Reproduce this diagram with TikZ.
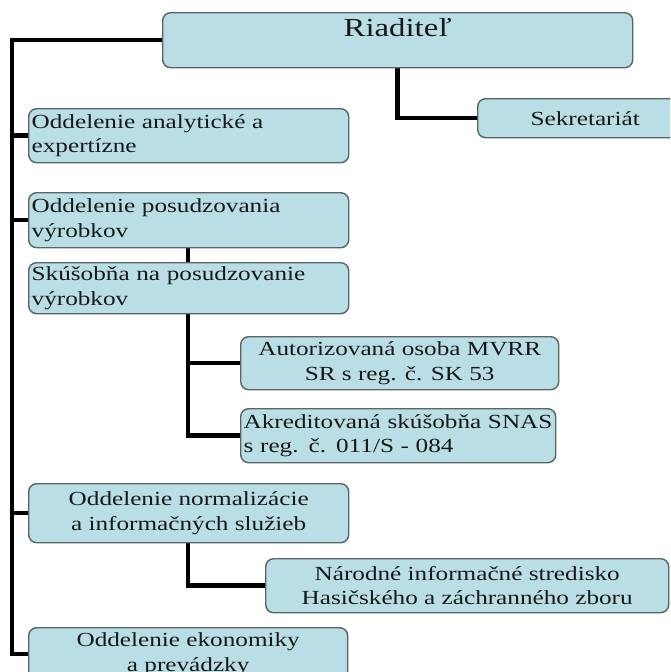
\documentclass[tikz,border=0pt]{standalone}
\usepackage{fontspec}
\setmainfont[FakeStretch=1.26]{Liberation Serif}
\usetikzlibrary{backgrounds}
\definecolor{boxfill}{RGB}{186,222,229}
\definecolor{boxline}{RGB}{88,100,102}
\definecolor{ink}{RGB}{25,25,25}
\begin{document}
\begin{tikzpicture}[x=1pt,y=-1pt,
  box/.style={draw=boxline, line width=1.4pt, fill=boxfill, rounded corners=8pt,
    anchor=north west, inner xsep=3pt, inner ysep=0pt, text=ink,
    font=\fontsize{20}{24.5}\selectfont},
  leftbox/.style={box, align=left, text width=#1},
  midbox/.style={box, align=center},
  conn/.style={draw=black, line width=4.5pt, line join=miter}]
\useasboundingbox (0,0) rectangle (670,672);
\clip (0,0) rectangle (670,672);

% guide lines of the tree
\coordinate (trunk) at (12,0);
\coordinate (sub) at (188,0);

% director and secretariat
\node[midbox, minimum width=470pt, text height=24pt, text depth=31pt,
  font=\fontsize{26}{30}\selectfont] (riad) at (162,12) {Riaditeľ};
\node[midbox, minimum width=215pt, minimum height=39pt, text width=200pt] (sekr) at (477,98) {Sekretariát};

% departments on the main trunk
\node[leftbox=314pt, minimum width=320pt, minimum height=54pt] (anal) at (28,108)
  {Oddelenie analytické a\\expertízne};
\node[leftbox=314pt, minimum width=320pt, minimum height=55pt] (posu) at (28,192)
  {Oddelenie posudzovania\\výrobkov};
\node[leftbox=314pt, minimum width=320pt, minimum height=51pt] (skus) at (28,262)
  {Skúšobňa na posudzovanie\\výrobkov};
\node[midbox, minimum width=318pt, minimum height=53pt] (auto) at (240,336)
  {Autorizovaná osoba MVRR\\SR s reg. č. SK 53};
\node[leftbox=309pt, minimum width=315pt, minimum height=54pt] (akre) at (240,408)
  {Akreditovaná skúšobňa SNAS\\s reg. č. 011/S - 084};
\node[midbox, minimum width=320pt, minimum height=59pt] (norm) at (28,483)
  {Oddelenie normalizácie\\a informačných služieb};
\node[midbox, minimum width=403pt, minimum height=54pt] (nar) at (265,558)
  {Národné informačné stredisko\\Hasičského a záchranného zboru};
\node[midbox, minimum width=319pt, minimum height=53pt] (ekon) at (28,627)
  {Oddelenie ekonomiky\\a prevádzky};

% connectors
\begin{scope}[on background layer]
  \draw[conn] (riad.west) -| (trunk |- ekon.west) -- (ekon.west);
  \draw[conn] (trunk |- anal.west) -- (anal.west);
  \draw[conn] (trunk |- posu.west) -- (posu.west);
  \draw[conn] (trunk |- norm.west) -- (norm.west);
  \draw[conn] (riad.south) |- (sekr.west);
  \draw[conn] (posu.south -| sub) -- (skus.north -| sub);
  \draw[conn] (skus.south -| sub) |- (auto.west);
  \draw[conn] (skus.south -| sub) |- (akre.west);
  \draw[conn] (norm.south -| sub) |- (nar.west);
\end{scope}
\end{tikzpicture}
\end{document}
